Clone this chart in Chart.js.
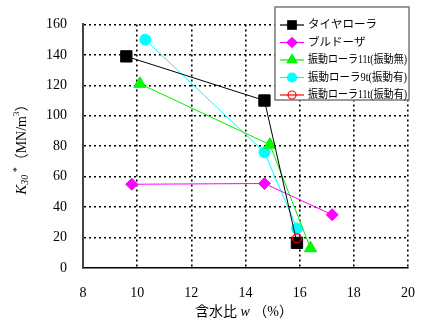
<!DOCTYPE html>
<html>
<head>
<meta charset="utf-8">
<script src="https://cdn.jsdelivr.net/npm/chart.js@4"></script>
<style>
html, body { margin: 0; padding: 0; background: #fff; }
</style>
</head>
<body>
<canvas id="chart" width="432" height="322"></canvas>
<script>
// data
const seriesNames = ['タイヤローラ', 'ブルドーザ', '振動ローラ11t(振動無)', '振動ローラ9t(振動有)', '振動ローラ11t(振動有)'];
const tireX = [9.6, 14.7, 15.9];
const tireY = [139, 110, 16.5];
const dozerX = [9.8, 14.7, 17.2];
const dozerY = [55, 55.5, 35];
const vib11offX = [10.1, 14.9, 16.4];
const vib11offY = [121, 81, 13];
const vib9onX = [10.3, 14.7, 15.9];
const vib9onY = [150, 76, 26];
const vib11onX = [15.9];
const vib11onY = [19.5];
const xTicks = [8, 10, 12, 14, 16, 18, 20];
const yTicks = [0, 20, 40, 60, 80, 100, 120, 140, 160];

const SERIF = '"Liberation Serif", "Noto Sans CJK JP", serif';

function pts(xs, ys) {
    return xs.map((x, i) => ({ x: x, y: ys[i] }));
}

const styles = [
    { color: '#000000', fill: '#000000', pointStyle: 'rect', radius: 8, legendRadius: 6 },
    { color: '#ff00ff', fill: '#ff00ff', pointStyle: 'rectRot', radius: 6, legendRadius: 5 },
    { color: '#00ee00', fill: '#00ff00', pointStyle: 'triangle', radius: 7, legendRadius: 5.5 },
    { color: '#00ffff', fill: '#00ffff', pointStyle: 'circle', radius: 5.5, legendRadius: 4.5 },
    { color: '#ff0000', fill: 'rgba(0,0,0,0)', pointStyle: 'circle', radius: 4.5, legendRadius: 4 },
];

const allData = [
    pts(tireX, tireY),
    pts(dozerX, dozerY),
    pts(vib11offX, vib11offY),
    pts(vib9onX, vib9onY),
    pts(vib11onX, vib11onY),
];

const datasets = allData.map((d, i) => ({
    label: seriesNames[i],
    data: d,
    order: i === 4 ? -1 : 0,
    showLine: true,
    borderColor: styles[i].color,
    backgroundColor: styles[i].fill,
    borderWidth: 1,
    pointStyle: styles[i].pointStyle,
    pointRadius: styles[i].radius,
    pointBorderWidth: i === 4 ? 1.2 : 1,
    pointBorderColor: styles[i].color,
    pointBackgroundColor: styles[i].fill,
}));

function drawRich(ctx, parts, cx, cy, rot) {
    ctx.save();
    ctx.translate(cx, cy);
    ctx.rotate(rot);
    let total = 0;
    parts.forEach(p => {
        ctx.font = p.font;
        p.w = ctx.measureText(p.text).width;
        total += p.w;
    });
    let x = -total / 2;
    ctx.textBaseline = 'middle';
    ctx.textAlign = 'left';
    ctx.fillStyle = '#000';
    parts.forEach(p => {
        ctx.font = p.font;
        ctx.fillText(p.text, x, p.dy || 0);
        x += p.w;
    });
    ctx.restore();
}

const extras = {
    id: 'extras',
    afterDraw(chart) {
        const ctx = chart.ctx;
        const area = chart.chartArea;

        // axis titles
        drawRich(ctx, [
            { text: 'K', font: 'italic 15px ' + SERIF },
            { text: '30', font: 'italic 10px ' + SERIF, dy: 3 },
            { text: ' *', font: '10px ' + SERIF, dy: -5 },
            { text: '（MN/m', font: '14px ' + SERIF },
            { text: '3', font: '9px ' + SERIF, dy: -5 },
            { text: '）', font: '14px ' + SERIF },
        ], 22, (area.top + area.bottom) / 2, -Math.PI / 2);

        drawRich(ctx, [
            { text: '含水比 ', font: '14px ' + SERIF },
            { text: 'w', font: 'italic 14px ' + SERIF },
            { text: ' （%）', font: '14px ' + SERIF },
        ], 244, 312, 0);

        // legend box
        const bx = 275, by = 7, bw = 134, bh = 93;
        ctx.save();
        ctx.fillStyle = '#fff';
        ctx.fillRect(bx, by, bw, bh);
        ctx.strokeStyle = '#7a7a7a';
        ctx.lineWidth = 1.5;
        ctx.strokeRect(bx, by, bw, bh);
        ctx.font = '11.5px ' + SERIF;
        ctx.textBaseline = 'middle';
        ctx.textAlign = 'left';
        seriesNames.forEach((name, i) => {
            const y = by + 18 + i * 17.5;
            const s = styles[i];
            ctx.strokeStyle = s.color;
            ctx.lineWidth = 1.2;
            ctx.beginPath();
            ctx.moveTo(bx + 5, y);
            ctx.lineTo(bx + 29, y);
            ctx.stroke();
            ctx.fillStyle = s.fill;
            ctx.strokeStyle = s.color;
            Chart.helpers.drawPoint(ctx, {
                pointStyle: s.pointStyle,
                radius: s.legendRadius,
                rotation: 0,
                borderWidth: 1,
            }, bx + 17, y);
            // squeeze text horizontally so it fits the box like the original
            const tw = ctx.measureText(name).width;
            const room = bw - 35;
            const sx = Math.min(1, room / tw);
            ctx.save();
            ctx.translate(bx + 33, y);
            ctx.scale(sx, 1);
            ctx.fillStyle = '#000';
            ctx.fillText(name, 0, 0);
            ctx.restore();
        });
        ctx.restore();
    }
};

const config = {
    type: 'scatter',
    data: { datasets: datasets },
    options: {
        responsive: false,
        animation: false,
        layout: { padding: { left: 0, right: 21, top: 17, bottom: 0 } },
        plugins: {
            legend: { display: false },
            tooltip: { enabled: false },
        },
        scales: {
            x: {
                type: 'linear',
                min: 8,
                max: 20,
                afterBuildTicks: s => { s.ticks = xTicks.map(v => ({ value: v })); },
                afterFit: s => { s.height = 54; },
                ticks: { color: '#000', font: { family: SERIF, size: 14 }, padding: 17 },
                grid: {
                    drawTicks: false,
                    color: c => (c.tick && c.tick.value === 8) ? 'rgba(0,0,0,0)' : '#000',
                    lineWidth: 1.6,
                },
                border: { display: true, color: '#000', width: 1.5, dash: [2, 3] },
            },
            y: {
                type: 'linear',
                min: 0,
                max: 160,
                afterBuildTicks: s => { s.ticks = yTicks.map(v => ({ value: v })); },
                afterFit: s => { s.width = 83; },
                ticks: { color: '#000', font: { family: SERIF, size: 14 }, padding: 16 },
                grid: {
                    drawTicks: false,
                    color: c => (c.tick && c.tick.value === 0) ? 'rgba(0,0,0,0)' : '#000',
                    lineWidth: 1.6,
                },
                border: { display: true, color: '#444', width: 2, dash: [2, 3] },
            },
        },
    },
    plugins: [extras],
};

const myChart = new Chart(document.getElementById('chart'), config);
</script>
</body>
</html>
